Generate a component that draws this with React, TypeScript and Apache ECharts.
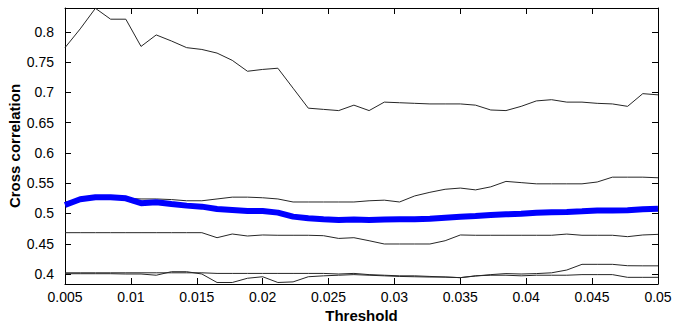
import React, { useEffect, useRef } from "react";
import * as echarts from "echarts";

const thresholds = [
  0.005, 0.006154, 0.007308, 0.008462, 0.009615, 0.010769, 0.011923, 0.013077, 0.014231, 0.015385,
  0.016538, 0.017692, 0.018846, 0.02, 0.021154, 0.022308, 0.023462, 0.024615, 0.025769, 0.026923,
  0.028077, 0.029231, 0.030385, 0.031538, 0.032692, 0.033846, 0.035, 0.036154, 0.037308, 0.038462,
  0.039615, 0.040769, 0.041923, 0.043077, 0.044231, 0.045385, 0.046538, 0.047692, 0.048846, 0.05,
];

const topLine = [
  0.774, 0.805, 0.839, 0.821, 0.821, 0.776, 0.795, 0.785, 0.774, 0.771,
  0.765, 0.753, 0.735, 0.738, 0.74, 0.707, 0.674, 0.672, 0.67, 0.679,
  0.67, 0.684, 0.683, 0.682, 0.681, 0.681, 0.681, 0.679, 0.671, 0.67,
  0.677, 0.686, 0.688, 0.684, 0.684, 0.682, 0.681, 0.677, 0.698, 0.696,
];

const upperMid = [
  0.519, 0.523, 0.524, 0.525, 0.525, 0.524, 0.524, 0.523, 0.521, 0.521,
  0.524, 0.527, 0.527, 0.526, 0.524, 0.519, 0.519, 0.519, 0.519, 0.519,
  0.521, 0.522, 0.519, 0.529, 0.535, 0.54, 0.542, 0.539, 0.544, 0.553,
  0.551, 0.549, 0.549, 0.549, 0.549, 0.552, 0.56, 0.56, 0.56, 0.559,
];

const meanLine = [
  0.514, 0.5235, 0.5268, 0.5268, 0.525, 0.517, 0.5185, 0.5157, 0.513, 0.5113,
  0.5075, 0.5058, 0.504, 0.504, 0.5014, 0.4948, 0.492, 0.4904, 0.4893, 0.49,
  0.4893, 0.49, 0.4904, 0.4904, 0.4915, 0.493, 0.4945, 0.4959, 0.4975, 0.4986,
  0.4997, 0.5014, 0.502, 0.5025, 0.5036, 0.505, 0.505, 0.5053, 0.507, 0.508,
];

const lowerMid = [
  0.4683, 0.4683, 0.4683, 0.4683, 0.4683, 0.4683, 0.4683, 0.4683, 0.4683, 0.4683,
  0.46, 0.4661, 0.4628, 0.4645, 0.464, 0.464, 0.464, 0.4633, 0.4588, 0.46,
  0.455, 0.4496, 0.4496, 0.4496, 0.4496, 0.455, 0.4645, 0.464, 0.464, 0.464,
  0.464, 0.464, 0.464, 0.466, 0.464, 0.464, 0.464, 0.4617, 0.4645, 0.4655,
];

const bottomA = [
  0.402, 0.402, 0.402, 0.402, 0.402, 0.402, 0.402, 0.402, 0.402, 0.402,
  0.401, 0.401, 0.401, 0.401, 0.401, 0.401, 0.401, 0.401, 0.4, 0.401,
  0.399, 0.398, 0.397, 0.397, 0.396, 0.395, 0.394, 0.397, 0.398, 0.398,
  0.397, 0.398, 0.398, 0.398, 0.399, 0.399, 0.399, 0.3945, 0.3945, 0.3945,
];

const bottomB = [
  0.4005, 0.4005, 0.4005, 0.4005, 0.4, 0.4, 0.398, 0.4038, 0.4038, 0.4,
  0.386, 0.386, 0.393, 0.3955, 0.386, 0.387, 0.3955, 0.397, 0.398, 0.399,
  0.398, 0.397, 0.396, 0.3955, 0.395, 0.395, 0.394, 0.3967, 0.399, 0.4007,
  0.4, 0.4007, 0.402, 0.4066, 0.416, 0.416, 0.416, 0.4137, 0.4135, 0.4135,
];

const yTicks = [0.4, 0.45, 0.5, 0.55, 0.6, 0.65, 0.7, 0.75, 0.8];
const xTicks = [0.005, 0.01, 0.015, 0.02, 0.025, 0.03, 0.035, 0.04, 0.045, 0.05];

const Y_MIN = 0.3835;
const Y_MAX = 0.8395;

const FONT = "Liberation Sans, Arial, sans-serif";

function pairs(ys: number[]) {
  return ys.map((y, i) => [thresholds[i], y]);
}

export default function App() {
  const ref = useRef<HTMLDivElement>(null);
  useEffect(() => {
    document.body.style.margin = "0";
    const chart = echarts.init(ref.current!, null, { renderer: "svg" });
    const thin = (name: string, ys: number[]) => ({
      name,
      type: "line",
      data: pairs(ys),
      showSymbol: false,
      symbol: "none",
      lineStyle: { color: "#262626", width: 1 },
      z: 2,
    });
    const axisCommon = {
      axisLine: { show: true, lineStyle: { color: "#000", width: 1 } },
      splitLine: { show: false },
    };
    chart.setOption({
      animation: false,
      grid: { left: 65, right: 17, top: 8, bottom: 39, containLabel: false, outerBoundsMode: "none" },
      xAxis: [
        {
          type: "value",
          position: "bottom",
          min: 0.005,
          max: 0.05,
          ...axisCommon,
          axisTick: { show: true, inside: true, length: 6, customValues: xTicks, lineStyle: { color: "#000" } },
          axisLabel: {
            show: true,
            customValues: xTicks,
            color: "#000",
            fontFamily: FONT,
            fontSize: 14,
            margin: 6,
            formatter: (v: number) => String(parseFloat(v.toFixed(4))),
          },
          name: "Threshold",
          nameLocation: "middle",
          nameGap: 24,
          nameMoveOverlap: false,
          nameTextStyle: { color: "#000", fontFamily: FONT, fontSize: 15, fontWeight: "bold" },
        },
        {
          type: "value",
          position: "top",
          min: 0.005,
          max: 0.05,
          ...axisCommon,
          axisTick: { show: true, inside: true, length: 6, customValues: xTicks, lineStyle: { color: "#000" } },
          axisLabel: { show: false },
        },
      ],
      yAxis: [
        {
          type: "value",
          position: "left",
          min: Y_MIN,
          max: Y_MAX,
          ...axisCommon,
          axisTick: { show: true, inside: true, length: 6, customValues: yTicks, lineStyle: { color: "#000" } },
          axisLabel: {
            show: true,
            customValues: yTicks,
            color: "#000",
            fontFamily: FONT,
            fontSize: 14,
            margin: 11,
            formatter: (v: number) => String(parseFloat(v.toFixed(3))),
          },
          name: "Cross correlation",
          nameLocation: "middle",
          nameGap: 43,
          nameMoveOverlap: false,
          nameRotate: 90,
          nameTextStyle: { color: "#000", fontFamily: FONT, fontSize: 15, fontWeight: "bold" },
        },
        {
          type: "value",
          position: "right",
          min: Y_MIN,
          max: Y_MAX,
          ...axisCommon,
          axisTick: { show: true, inside: true, length: 6, customValues: yTicks, lineStyle: { color: "#000" } },
          axisLabel: { show: false },
        },
      ],
      series: [
        thin("Top", topLine),
        thin("Upper", upperMid),
        thin("Lower", lowerMid),
        thin("Bottom A", bottomA),
        thin("Bottom B", bottomB),
        {
          name: "Mean",
          type: "line",
          data: pairs(meanLine),
          showSymbol: false,
          symbol: "none",
          lineStyle: { color: "#0000ff", width: 6 },
          z: 3,
        },
      ],
    });
    return () => chart.dispose();
  }, []);
  return <div ref={ref} style={{ width: 675, height: 323 }} />;
}
